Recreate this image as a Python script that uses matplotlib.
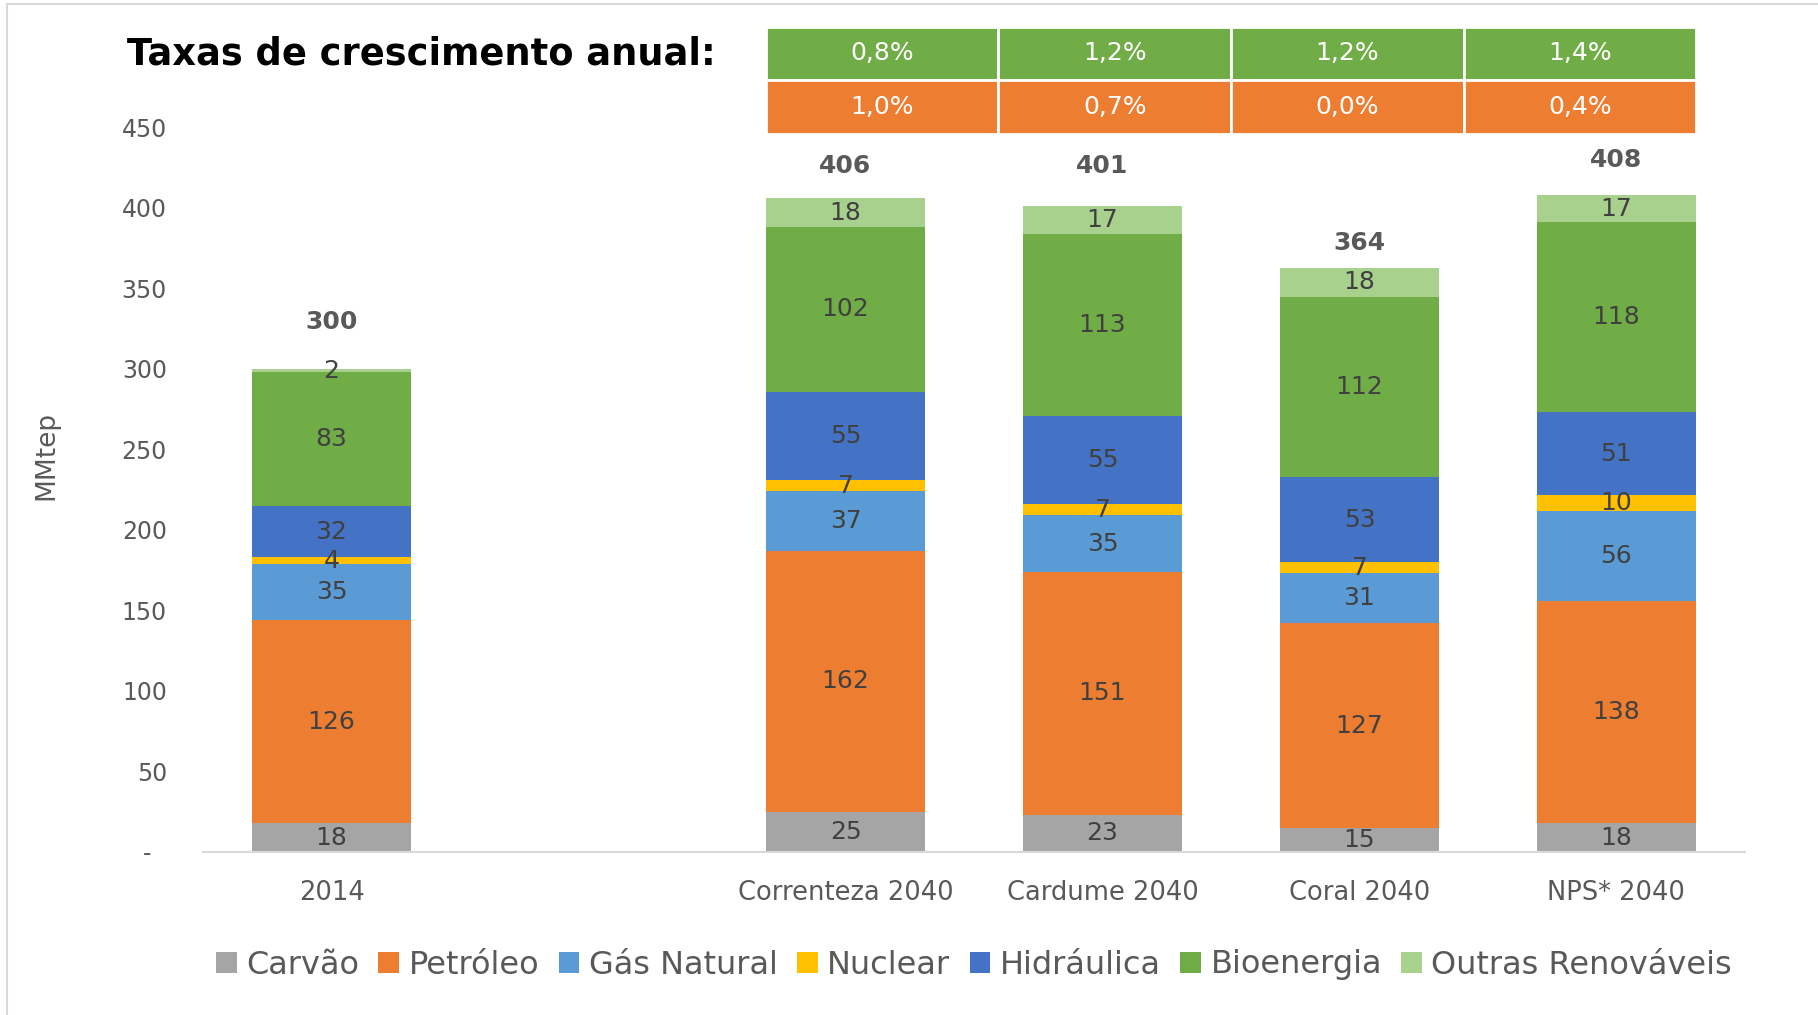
import numpy as np
import matplotlib
matplotlib.use("Agg")
from matplotlib import pyplot as plt
from matplotlib.patches import Rectangle
from matplotlib.lines import Line2D

plt.rcParams['font.family'] = ['DejaVu Sans']

# data
categories = ["2014", "", "Correnteza 2040", "Cardume 2040", "Coral 2040", "NPS* 2040"]
sources = ["Carvão", "Petróleo", "Gás Natural", "Nuclear", "Hidráulica", "Bioenergia", "Outras Renováveis"]
carvao = [18, None, 25, 23, 15, 18]
petroleo = [126, None, 162, 151, 127, 138]
gas_natural = [35, None, 37, 35, 31, 56]
nuclear = [4, None, 7, 7, 7, 10]
hidraulica = [32, None, 55, 55, 53, 51]
bioenergia = [83, None, 102, 113, 112, 118]
outras = [2, None, 18, 17, 18, 17]
totals = [300, None, 406, 401, 364, 408]
total_pad = [29, 0, 20, 25, 14, 22]

growth_bio = ["0,8%", "1,2%", "1,2%", "1,4%"]
growth_oil = ["1,0%", "0,7%", "0,0%", "0,4%"]

colors = ["#A5A5A5", "#ED7D31", "#5B9BD5", "#FFC000", "#4472C4", "#70AD47", "#A9D18E"]
series = [carvao, petroleo, gas_natural, nuclear, hidraulica, bioenergia, outras]

fig = plt.figure(figsize=(18.18, 10.15), dpi=100)
ax = fig.add_axes([0.1117, 0.1606, 0.8481, 0.7138])

x = np.arange(len(categories))
width = 0.62
txt_col = "#404040"
grey = "#595959"

bottom = np.zeros(len(categories))
for vals, col, name in zip(series, colors, sources):
    v = np.array([0 if a is None else a for a in vals], dtype=float)
    ax.bar(x, v, width, bottom=bottom, color=col, label=name, edgecolor="none")
    for xi, vi, bi in zip(x, v, bottom):
        if vi > 0:
            ax.text(xi, bi + vi / 2, f"{int(vi)}", ha="center", va="center",
                    fontsize=18, color=txt_col)
    bottom += v

for xi, t, p in zip(x, totals, total_pad):
    if t is not None:
        ax.text(xi, t + p, str(t), ha="center", va="center", fontsize=18,
                fontweight="bold", color=grey)

# growth table
cell_w = (x[5] + width / 2 - (x[2] - width / 2)) / 4
x0 = x[2] - width / 2
for i, (g, o) in enumerate(zip(growth_bio, growth_oil)):
    cx = x0 + i * cell_w
    ax.add_patch(Rectangle((cx, 479.5), cell_w, 33, facecolor="#70AD47",
                           edgecolor="white", linewidth=2, clip_on=False))
    ax.add_patch(Rectangle((cx, 446), cell_w, 33.5, facecolor="#ED7D31",
                           edgecolor="white", linewidth=2, clip_on=False))
    ax.text(cx + cell_w / 2, 496, g, ha="center", va="center", fontsize=18,
            color="white", clip_on=False)
    ax.text(cx + cell_w / 2, 462.5, o, ha="center", va="center", fontsize=18,
            color="white", clip_on=False)

fig.text(127 / 1818, 1 - 54 / 1015, "Taxas de crescimento anual:", ha="left",
         va="center", fontsize=26.5, fontweight="bold", color="black")

ax.set_xlim(-0.5, 5.5)
ax.set_ylim(0, 450)
ax.set_xticks(x)
ax.set_xticklabels(categories, fontsize=18.5, color=grey)
yt = np.arange(0, 451, 50)
ax.set_yticks(yt)
ax.set_yticklabels(["-  "] + [str(v) for v in yt[1:]], fontsize=17, color=grey)
ax.tick_params(axis="both", length=0)
ax.tick_params(axis="y", pad=26)
ax.tick_params(axis="x", pad=20)
for s in ["top", "right", "left"]:
    ax.spines[s].set_visible(False)
ax.spines["bottom"].set_color("#D9D9D9")
ax.spines["bottom"].set_linewidth(1.5)
ax.set_ylabel("MMtep", fontsize=19, color=grey)
ax.yaxis.set_label_coords(-0.093, 0.547)

handles = [Rectangle((0, 0), 1, 1, facecolor=c, edgecolor="none") for c in colors]
leg = fig.legend(handles, sources, loc="center", bbox_to_anchor=(0.5358, 1 - 965 / 1015),
                 ncol=7, frameon=False, fontsize=23, handlelength=0.65, handleheight=0.65,
                 handletextpad=0.3, columnspacing=0.6, labelcolor=grey)

# outer frame
fig.add_artist(Line2D([7 / 1818, 7 / 1818], [0, 1 - 4 / 1015], color="#D9D9D9", lw=1.5))
fig.add_artist(Line2D([7 / 1818, 1], [1 - 4 / 1015, 1 - 4 / 1015], color="#D9D9D9", lw=1.5))

fig.savefig("out.png", dpi=100)
